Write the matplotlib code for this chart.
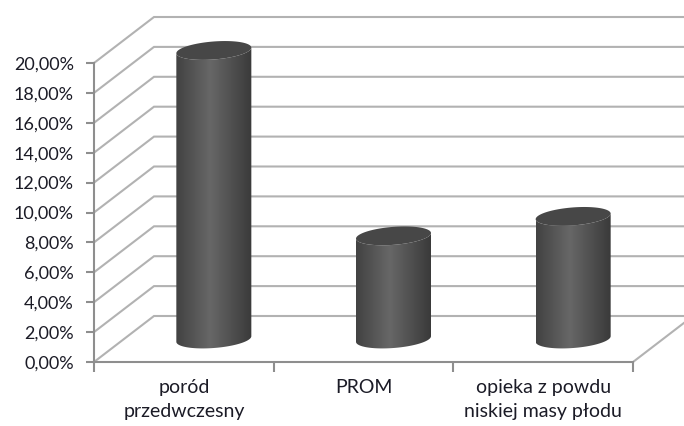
import numpy as np
import matplotlib
matplotlib.use('Agg')
import matplotlib.pyplot as plt
from matplotlib.colors import LinearSegmentedColormap
from matplotlib.patches import Polygon

categories = ['poród\nprzedwczesny', 'PROM', 'opieka z powdu\nniskiej masy płodu']
values = [19.3, 6.9, 8.2]
y_ticks = [0, 2, 4, 6, 8, 10, 12, 14, 16, 18, 20]

W, H = 684, 426
LEFT, RIGHT, BOTTOM, TOP = 94, 633, 362, 63
GRID = '#b2b2b2'
AXIS = '#8e8e8e'
TEXT = '#1b1b26'

plt.rcParams['font.family'] = ['Lato', 'DejaVu Sans']

fig = plt.figure(figsize=(W / 100, H / 100), dpi=100)
ax = fig.add_axes([LEFT / W, 1 - BOTTOM / H, (RIGHT - LEFT) / W, (BOTTOM - TOP) / H])
ax.set_xlim(0, len(categories))
ax.set_ylim(0, 20)

# pixels per data unit, used to express the oblique depth and the cylinder size
px_x = (RIGHT - LEFT) / len(categories)
px_y = (BOTTOM - TOP) / 20
depth_x = 60 / px_x
depth_y = 46 / px_y

# wall gridlines running back from the y axis and along the rear wall
for t in y_ticks:
    ax.plot([0, depth_x, 3.4], [t, t + depth_y, t + depth_y], color=GRID, lw=1.5,
            clip_on=False, zorder=1, solid_joinstyle='miter')
ax.plot([3, 3 + depth_x], [0, depth_y], color=GRID, lw=1.5, clip_on=False, zorder=1)

# cylinders stand halfway into the floor
cmap = LinearSegmentedColormap.from_list('cyl', [(0, '#424242'), (0.45, '#676767'), (1, '#3a3a3a')])
gradient = np.linspace(0, 1, 256).reshape(1, -1)
rx = 37.5 / px_x
ry = 9 / px_y
tilt = 2.8 / px_y
t_arc = np.linspace(0, 2 * np.pi, 120)


def ellipse(cx, cy, t):
    return cx + rx * np.cos(t), cy + ry * np.sin(t) + tilt * np.cos(t)


for i, val in enumerate(values):
    cx = i + 0.5 + depth_x / 2
    base = depth_y / 2
    top = base + val

    # body outline: lower half of the base ellipse, then the lower half of the top one
    low = np.linspace(np.pi, 2 * np.pi, 60)
    bx, by = ellipse(cx, base, low)
    tx, ty = ellipse(cx, top, low[::-1])
    verts = np.column_stack([np.r_[bx, tx], np.r_[by, ty]])
    body = Polygon(verts, closed=True, transform=ax.transData, facecolor='none', edgecolor='none')
    ax.add_patch(body)
    body.set_clip_on(False)
    img = ax.imshow(gradient, cmap=cmap, aspect='auto', zorder=2, vmin=0, vmax=1,
                    extent=[cx - rx, cx + rx, base - 2, top + 2])
    img.set_clip_box(fig.bbox)
    img.set_clip_path(body)

    ex, ey = ellipse(cx, top, t_arc)
    ax.fill(ex, ey, color='#474747', zorder=3, clip_on=False, lw=0)

ax.set_xlim(0, len(categories))
ax.set_ylim(0, 20)

for side in ['top', 'right']:
    ax.spines[side].set_visible(False)
for side in ['left', 'bottom']:
    ax.spines[side].set_color(AXIS)
    ax.spines[side].set_linewidth(1.5)
    ax.spines[side].set_zorder(1.5)

ax.set_yticks(y_ticks)
ax.set_yticklabels([f'{t},00%' for t in y_ticks])
ax.set_xticks(range(len(categories) + 1))
ax.set_xticklabels([])
ax.set_xticks(np.arange(len(categories)) + 0.5, labels=categories, minor=True)
ax.tick_params(axis='y', length=6, width=1.5, color=AXIS, labelcolor=TEXT, labelsize=13, pad=8.5)
ax.tick_params(axis='x', which='major', length=7, width=1.5, color=AXIS)
ax.tick_params(axis='x', which='minor', length=0, labelcolor=TEXT, labelsize=14, pad=12)
for lab in ax.get_xticklabels(minor=True):
    lab.set_linespacing(1.55)
ax.patch.set_alpha(0)

fig.savefig('out.png', dpi=100)
